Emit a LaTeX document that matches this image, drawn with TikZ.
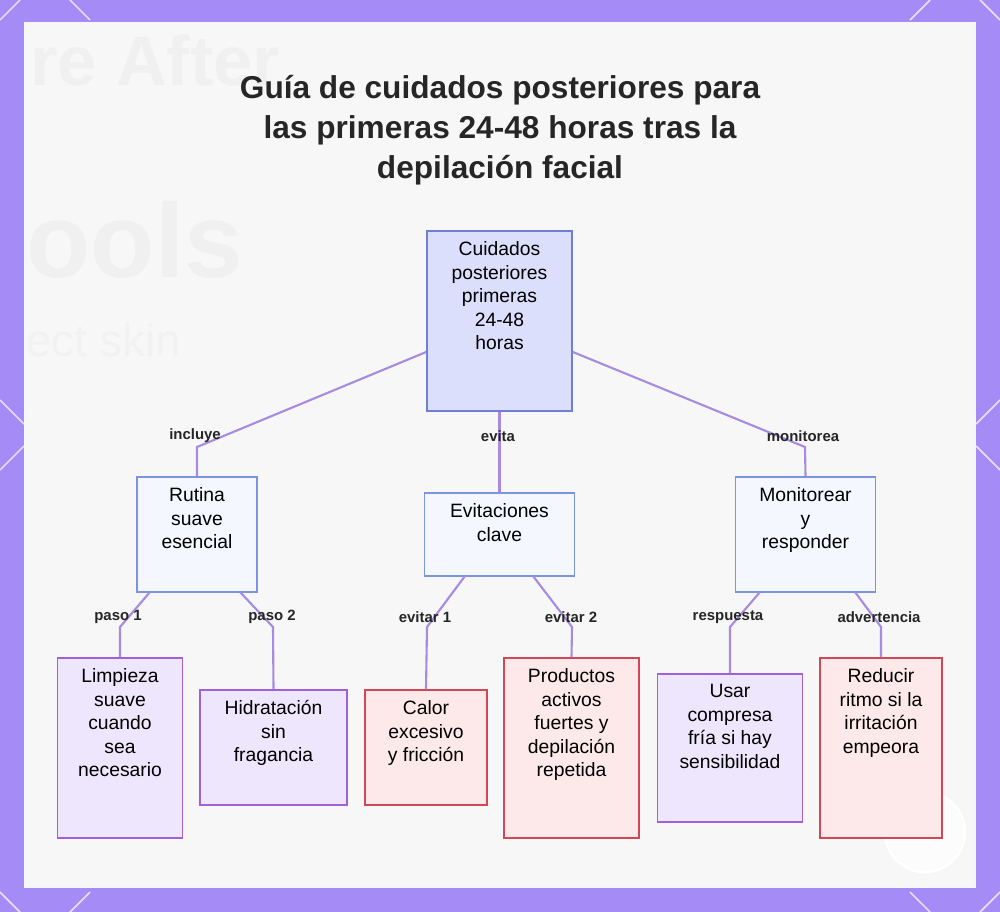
\documentclass[tikz,border=0pt]{standalone}
\usepackage{fontspec}
\setmainfont{Liberation Sans}
\begin{document}
\begin{tikzpicture}[x=0.02cm,y=-0.02cm,
  edge/.style={draw=lav,line width=1.2pt},
  lbl/.style={font=\bfseries\fontsize{8.5}{10}\selectfont,text=black!85},
  blue/.style={draw=bbord,fill=bfill,line width=1pt,inner sep=0pt},
  bluelt/.style={draw=bbord2,fill=bfill2,line width=1pt,inner sep=0pt},
  purp/.style={draw=pbord,fill=pfill,line width=1pt,inner sep=0pt},
  redb/.style={draw=rbord,fill=rfill,line width=1pt,inner sep=0pt}]
\definecolor{bgp}{HTML}{A48BF5}
\definecolor{lav}{HTML}{A68BE0}
\definecolor{bbord}{HTML}{6F7FD8}\definecolor{bfill}{HTML}{DCDFFC}
\definecolor{bbord2}{HTML}{7B93E0}\definecolor{bfill2}{HTML}{F5F7FF}
\definecolor{pbord}{HTML}{A060D8}\definecolor{pfill}{HTML}{EEE6FD}
\definecolor{rbord}{HTML}{D04858}\definecolor{rfill}{HTML}{FDE8EA}
\newcommand\bt[3]{\parbox[c][#2][t]{#1}{\centering\fontsize{11}{13.4}\selectfont\vspace{6pt}#3}}
\useasboundingbox (0,0) rectangle (1000,912);
\fill[bgp] (0,0) rectangle (1000,912);
\draw[white!70!bgp,line width=1pt] (0,20)--(20,0) (70,0)--(90,20) (910,20)--(930,0) (980,0)--(1000,20)
 (0,400)--(24,424) (0,470)--(24,446) (976,424)--(1000,400) (976,446)--(1000,470)
 (0,892)--(20,912) (70,912)--(90,892) (910,892)--(930,912) (980,912)--(1000,892);
\fill[black!3] (24,22) rectangle (976,888);
\node[text=black!6,font=\bfseries\fontsize{40}{40}\selectfont,anchor=west] (bg1) at (24,60) {re After};
\node[text=black!6,font=\bfseries\fontsize{60}{60}\selectfont,anchor=west] (bg2) at (20,240) {ools};
\node[text=black!5,font=\fontsize{26}{26}\selectfont,anchor=west] (bg3) at (20,340) {ect skin};
\draw[white,line width=1.5pt,fill=white!60!black!3] (925,832) circle (40);
\node[font=\bfseries\fontsize{18}{22.7}\selectfont,align=center,text=black!85] (title) at (500,130)
 {Guía de cuidados posteriores para\\las primeras 24-48 horas tras la\\depilación facial};
\node[blue] (root) at (499.5,321) {\bt{2.9cm}{3.6cm}{Cuidados\\posteriores\\primeras\\24-48\\horas}};
\node[bluelt] (rut) at (197,534.5) {\bt{2.4cm}{2.3cm}{Rutina\\suave\\esencial}};
\node[bluelt] (evi) at (499.5,534.5) {\bt{3cm}{1.66cm}{Evitaciones\\clave}};
\node[bluelt] (mon) at (805.5,534.5) {\bt{2.8cm}{2.3cm}{Monitorear\\y\\responder}};
\node[purp] (lim) at (120,748) {\bt{2.5cm}{3.6cm}{Limpieza\\suave\\cuando\\sea\\necesario}};
\node[purp] (hid) at (273.5,747.5) {\bt{2.95cm}{2.3cm}{Hidratación\\sin\\fragancia}};
\node[redb] (cal) at (426,747.5) {\bt{2.45cm}{2.3cm}{Calor\\excesivo\\y fricción}};
\node[redb] (pro) at (571.5,748) {\bt{2.7cm}{3.6cm}{Productos\\activos\\fuertes y\\depilación\\repetida}};
\node[purp] (usa) at (730,748) {\bt{2.9cm}{2.96cm}{Usar\\compresa\\fría si hay\\sensibilidad}};
\node[redb] (red) at (881,748) {\bt{2.45cm}{3.6cm}{Reducir\\ritmo si la\\irritación\\empeora}};
\draw[edge] (root.west|-0,352) -- (197,447) -- (rut.north);
\draw[edge] (root.south) -- (evi.north);
\draw[edge] (root.east|-0,352) -- (805,447) -- (mon.north);
\draw[edge] (150,592) -- (120,627) -- (lim.north);
\draw[edge] (240,592) -- (273,627) -- (hid.north);
\draw[edge] (465,576) -- (427,627) -- (cal.north);
\draw[edge] (533,576) -- (572,627) -- (pro.north);
\draw[edge] (760,592) -- (730,627) -- (usa.north);
\draw[edge] (855,592) -- (881,627) -- (red.north);
\node[lbl] (l1) at (195,436) {incluye};
\node[lbl] (l2) at (498,436) {evita};
\node[lbl] (l3) at (803,436) {monitorea};
\node[lbl] (l4) at (118,617) {paso 1};
\node[lbl] (l5) at (272,617) {paso 2};
\node[lbl] (l6) at (425,617) {evitar 1};
\node[lbl] (l7) at (571,617) {evitar 2};
\node[lbl] (l8) at (728,617) {respuesta};
\node[lbl] (l9) at (879,617) {advertencia};
\end{tikzpicture}
\end{document}
